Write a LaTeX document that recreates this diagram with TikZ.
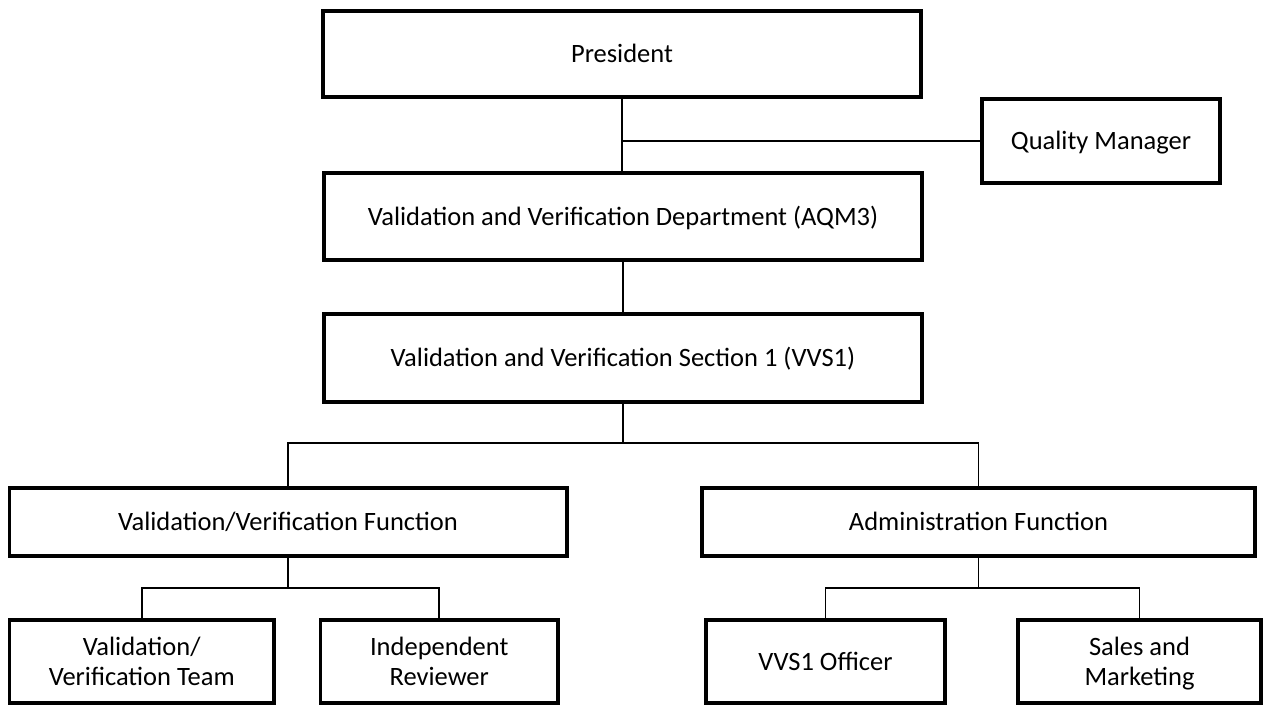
\documentclass[tikz,border=0pt]{standalone}
\usepackage{fontspec}
\setmainfont{Carlito}
\begin{document}
\begin{tikzpicture}[x=1pt,y=-1pt,
  box/.style={draw=black, line width=3.5pt, rectangle, inner sep=0pt,
    font=\fontsize{26.5}{30}\selectfont, text height=17pt, text depth=0pt},
  twoline/.style={align=center, text height=47pt, text depth=0pt},
  thinconn/.style={draw=black, line width=1.2pt},
  conn/.style={draw=black, line width=1.8pt}]
\useasboundingbox (0,0) rectangle (1265,705);

\node[box, minimum width=598pt, minimum height=86pt] (pres) at (622,54) {President};
\node[box, minimum width=238pt, minimum height=84pt] (qm) at (1101,141) {Quality Manager};
\node[box, minimum width=598pt, minimum height=87pt] (vvd) at (623,216.5) {Validation and Verification Department (AQM3)};
\node[box, minimum width=598pt, minimum height=88pt] (vvs) at (623,358) {Validation and Verification Section 1 (VVS1)};
\node[box, minimum width=557.5pt, minimum height=68pt] (vvf) at (288,522) {Validation/Verification Function};
\node[box, minimum width=553pt, minimum height=68pt] (adm) at (978.5,522) {Administration Function};
\node[box, twoline, minimum width=264.5pt, minimum height=83pt] (l1) at (141.75,661.5) {Validation/\\Verification Team};
\node[box, twoline, minimum width=237.5pt, minimum height=83pt] (l2) at (439.25,661.5) {Independent\\Reviewer};
\node[box, minimum width=239pt, minimum height=83pt] (l3) at (825.5,661.5) {VVS1 Officer};
\node[box, twoline, minimum width=243pt, minimum height=83pt] (l4) at (1139.5,661.5) {Sales and\\Marketing};

\coordinate (bus) at (0,443);
\coordinate (sb) at (0,588);

\draw[thinconn] (pres.south) -- (pres.south |- vvd.north);
\draw[thinconn] (qm.west) -- (qm.west -| pres.south);
\draw[thinconn] (vvd.south) -- (vvs.north);
\draw[conn] (vvs.south) -- (vvs.south |- bus);
\draw[conn] (vvf.north) -- (vvf.north |- bus) -- (adm.north |- bus) -- (adm.north);
\draw[conn] (vvf.south) -- (vvf.south |- sb);
\draw[conn] (l1.north) -- (l1.north |- sb) -- (l2.north |- sb) -- (l2.north);
\draw[conn] (adm.south) -- (adm.south |- sb);
\draw[conn] (l3.north) -- (l3.north |- sb) -- (l4.north |- sb) -- (l4.north);
\end{tikzpicture}
\end{document}
